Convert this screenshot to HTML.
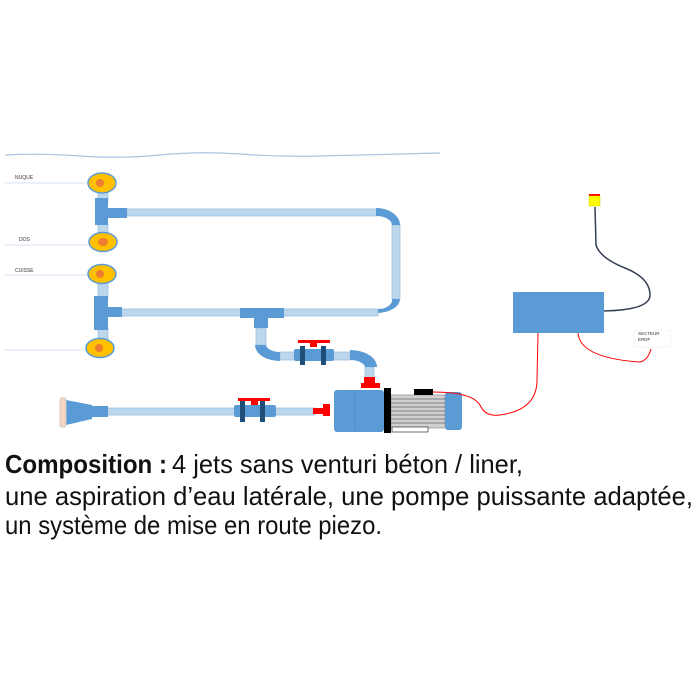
<!DOCTYPE html>
<html><head><meta charset="utf-8"><style>
html,body{margin:0;padding:0;background:#fff;width:700px;height:700px;overflow:hidden}
svg{display:block}
text{font-family:"Liberation Sans",sans-serif}
.cap{font-family:"Liberation Sans Narrow","Liberation Sans",sans-serif}
</style></head><body>
<svg width="700" height="700" viewBox="0 0 700 700" xmlns="http://www.w3.org/2000/svg">
<path d="M5,155 Q40,153 80,156 T160,155 T240,154 T320,156 T400,154 L440,153" fill="none" stroke="#a9c4de" stroke-width="1.2"/>
<g stroke="#d5e3f0" stroke-width="1">
<line x1="5" y1="183" x2="88" y2="183"/><line x1="5" y1="245" x2="88" y2="245"/>
<line x1="5" y1="275" x2="88" y2="275"/><line x1="5" y1="350" x2="86" y2="350"/>
</g>
<g font-size="5" fill="#333"><text x="15" y="179">NUQUE</text><text x="19" y="241">DOS</text><text x="15" y="272">CUISSE</text></g>
<g fill="#bcd6ec" stroke="#9fc1e0" stroke-width="0.8">
<rect x="98" y="192" width="10" height="10"/><rect x="98" y="224" width="10" height="10"/>
<rect x="98" y="283" width="10" height="14"/><rect x="98" y="328" width="10" height="12"/>
<rect x="127" y="209" width="250" height="7"/>
<rect x="392" y="225" width="8" height="74"/>
<rect x="120" y="309" width="258" height="7"/>
<rect x="256" y="328" width="10" height="17"/>
<rect x="280" y="352" width="15" height="8"/><rect x="332" y="352" width="18" height="8"/>
<rect x="365" y="367" width="9" height="12"/>
<rect x="107" y="408" width="208" height="7"/>
<rect x="391" y="395" width="54" height="33" fill="#d0d0d0" stroke="#999"/>
</g>
<g stroke="#666" stroke-width="0.7">
<line x1="391" y1="399" x2="445" y2="399"/><line x1="391" y1="403" x2="445" y2="403"/><line x1="391" y1="407" x2="445" y2="407"/>
<line x1="391" y1="411" x2="445" y2="411"/><line x1="391" y1="415" x2="445" y2="415"/><line x1="391" y1="419" x2="445" y2="419"/><line x1="391" y1="423" x2="445" y2="423"/>
</g>
<g fill="#5b9bd5">
<rect x="95" y="198" width="13" height="27"/><rect x="95" y="208" width="32" height="10"/>
<rect x="94" y="296" width="14" height="34"/><rect x="94" y="307" width="28" height="10"/>
<rect x="240" y="308" width="44" height="10"/><rect x="254" y="308" width="14" height="20"/>
<path d="M376,208 A24,17 0 0 1 400,225 L392,225 A16,9 0 0 0 376,216 Z"/>
<path d="M392,299 L400,299 A24,14 0 0 1 378,313 L378,309 A14,9 0 0 0 392,299 Z"/>
<path d="M255,345 L266,345 A14,8 0 0 0 280,352 L280,361 A25,16 0 0 1 255,345 Z"/>
<path d="M350,350 A27,17 0 0 1 377,367 L365,367 A15,8 0 0 0 350,360 Z"/>
<rect x="294" y="349" width="40" height="12" rx="2"/>
<rect x="234" y="405" width="42" height="12" rx="2"/>
<path d="M66,400 L92,405 L92,419 L66,425 Z"/><rect x="92" y="406" width="16" height="11"/>
<rect x="334" y="390" width="50" height="42" rx="3"/>
<rect x="445" y="392" width="17" height="38" rx="3"/>
<rect x="513" y="292" width="91" height="41"/>
</g>
<line x1="355" y1="391" x2="355" y2="431" stroke="#4a87c0" stroke-width="0.7"/>
<rect x="60" y="398" width="6" height="29" rx="2" fill="#f6d5c0" stroke="#ccc"/>
<g fill="#1f4e79">
<rect x="300" y="346" width="5" height="19"/><rect x="321" y="346" width="5" height="19"/>
<rect x="240" y="401" width="5" height="21"/><rect x="260" y="401" width="5" height="21"/>
</g>
<g fill="#f00">
<rect x="298" y="340" width="32" height="3"/><rect x="310" y="343" width="7" height="4"/>
<rect x="238" y="398" width="32" height="3"/><rect x="251" y="401" width="7" height="4"/>
<rect x="364" y="377" width="11" height="6"/><rect x="361" y="383" width="19" height="5"/>
<rect x="313" y="408" width="10" height="6"/><rect x="323" y="404" width="7" height="12"/>
<rect x="589" y="194" width="11" height="3"/>
</g>
<rect x="384" y="388" width="7" height="45" fill="#000"/>
<rect x="414" y="389" width="19" height="6" fill="#000"/>
<rect x="392" y="427" width="36" height="5" fill="#fff" stroke="#333" stroke-width="0.7"/>
<rect x="589" y="196" width="11" height="10" fill="#ff0" stroke="#cc0" stroke-width="0.5"/>
<g>
<ellipse cx="102" cy="183" rx="14" ry="10" fill="#ffc000" stroke="#5b9bd5" stroke-width="1.5"/><circle cx="100" cy="183" r="4" fill="#ed7d31"/>
<ellipse cx="103" cy="242" rx="14" ry="9.5" fill="#ffc000" stroke="#5b9bd5" stroke-width="1.5"/><ellipse cx="103" cy="242" rx="5" ry="4" fill="#ed7d31"/>
<ellipse cx="102" cy="274" rx="14" ry="9.5" fill="#ffc000" stroke="#5b9bd5" stroke-width="1.5"/><circle cx="100" cy="274" r="4" fill="#ed7d31"/>
<ellipse cx="100" cy="348" rx="14" ry="9.5" fill="#ffc000" stroke="#5b9bd5" stroke-width="1.5"/><circle cx="99" cy="348" r="4" fill="#ed7d31"/>
</g>
<path d="M595,207 L596,245 Q600,258 625,268 Q650,278 650,295 Q650,310 604,311" fill="none" stroke="#333f50" stroke-width="1.5"/>
<path d="M538,333 L537,380 Q537,410 500,415 Q485,417 480,405 Q472,392 433,392" fill="none" stroke="#f00" stroke-width="1"/>
<path d="M578,333 Q580,358 640,362 Q648,360 651,349" fill="none" stroke="#f00" stroke-width="1"/>
<rect x="634" y="330" width="37" height="17" fill="#fff" stroke="#eee" stroke-width="0.5"/>
<g font-size="4.5" fill="#333"><text x="638" y="335">SECTEUR</text><text x="638" y="341">ERDF</text></g>
<g font-size="26" fill="#111" class="cap">
<text class="cap" x="5" y="473" font-weight="bold" textLength="162" lengthAdjust="spacingAndGlyphs">Composition :</text>
<text class="cap" x="172" y="473" textLength="351" lengthAdjust="spacingAndGlyphs">4 jets sans venturi béton / liner,</text>
<text class="cap" x="5" y="505" textLength="688" lengthAdjust="spacingAndGlyphs">une aspiration d’eau latérale, une pompe puissante adaptée,</text>
<text class="cap" x="5" y="534" textLength="377" lengthAdjust="spacingAndGlyphs">un système de mise en route piezo.</text>
</g>
</svg>
</body></html>
